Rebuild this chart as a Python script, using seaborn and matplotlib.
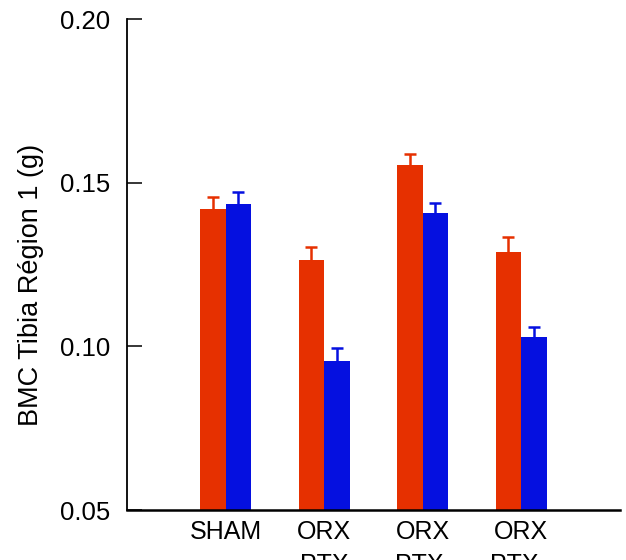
import pandas as pd
import matplotlib
matplotlib.use("Agg")
import matplotlib.pyplot as plt
import seaborn as sns

# Data
groups = ["SHAM", "ORX\nPTX", "ORX\nPTX ", "ORX\nPTX  "]
series = ["Group A", "Group B"]
red_vals = [0.1420, 0.1264, 0.1553, 0.1287]
blue_vals = [0.1435, 0.0956, 0.1408, 0.1029]
red_err = [0.0036, 0.0041, 0.0034, 0.0048]
blue_err = [0.0038, 0.0040, 0.0031, 0.0031]

colors = ["#E63000", "#0510E0"]

df = pd.DataFrame({
    "group": groups * 2,
    "series": [series[0]] * 4 + [series[1]] * 4,
    "value": red_vals + blue_vals,
    "err": red_err + blue_err,
})

sns.set_style("white")
plt.rcParams["font.family"] = ["Liberation Sans", "DejaVu Sans"]
plt.rcParams["text.color"] = "black"
plt.rcParams["axes.labelcolor"] = "black"
plt.rcParams["xtick.color"] = "black"
plt.rcParams["ytick.color"] = "black"

fig = plt.figure(figsize=(6.26, 5.6), dpi=100)
ax = fig.add_axes([0.203, 0.089, 0.787, 0.877])

sns.barplot(data=df, x="group", y="value", hue="series", palette=colors,
            width=0.52, gap=0, errorbar=None, saturation=1, linewidth=0,
            ax=ax)

# upper-only error bars with a cap, coloured like their bars
bars = [p for p in ax.patches if p.get_height() > 0]
errs = red_err + blue_err
for i, p in enumerate(bars):
    x = p.get_x() + p.get_width() / 2
    h = p.get_height()
    c = colors[i // 4]
    ax.plot([x, x], [h, h + errs[i]], color=c, lw=1.8, solid_capstyle="butt")
    ax.plot([x], [h + errs[i]], marker="_", ms=8, mew=1.8, color=c)

if ax.get_legend() is not None:
    ax.get_legend().remove()

ax.set_ylim(0.05, 0.20)
ax.set_xlim(-1, 4)
ax.set_yticks([0.05, 0.10, 0.15, 0.20])
ax.set_yticklabels(["0.05", "0.10", "0.15", "0.20"])
ax.set_xlabel("")
ax.set_ylabel("BMC Tibia Région 1 (g)", fontsize=19.5)
ax.yaxis.set_label_coords(-0.168, 0.458)

sns.despine(ax=ax)
ax.spines["left"].set_color("black")
ax.spines["bottom"].set_color("black")
ax.spines["left"].set_linewidth(1.3)
ax.spines["bottom"].set_linewidth(1.8)
ax.tick_params(axis="y", direction="in", length=11, width=1.1, pad=12,
               labelsize=18.5, left=True, colors="black")
ax.tick_params(axis="x", length=0, pad=7, labelsize=18, colors="black")
for lbl in ax.get_xticklabels():
    lbl.set_linespacing(1.5)

fig.savefig("out.png", dpi=100)
